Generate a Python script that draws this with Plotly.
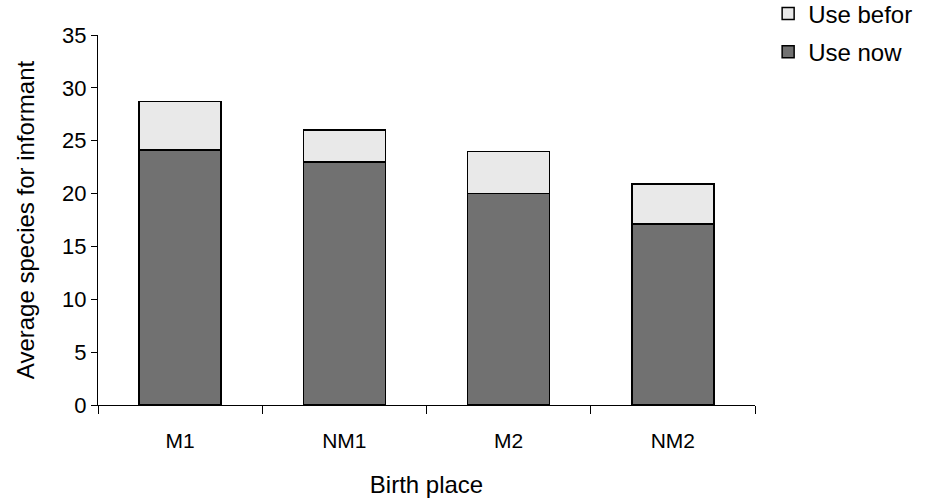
import plotly.graph_objects as go

# Birth place groups and average species counts per informant
places = ["M1", "NM1", "M2", "NM2"]
use_now = [24.1, 23.0, 20.0, 17.1]
use_before = [4.6, 3.0, 4.0, 3.8]

font = "Liberation Sans, Arial, sans-serif"

fig = go.Figure()
fig.add_trace(go.Bar(
    x=places, y=use_now, name="Use now", legendgroup="now", legendrank=2,
    marker=dict(color="#717171", line=dict(color="#000000", width=1.5)),
))
fig.add_trace(go.Bar(
    x=places, y=use_before, name="Use befor", legendgroup="before", legendrank=1,
    marker=dict(color="#e9e9e9", line=dict(color="#000000", width=1.5)),
))

fig.update_layout(
    width=929, height=500,
    barmode="stack", bargap=0.5,
    plot_bgcolor="white", paper_bgcolor="white",
    margin=dict(l=98, r=174, t=35, b=95, autoexpand=False),
    font=dict(family=font, size=22, color="#000000"),
    legend=dict(
        x=1.02, xanchor="left",
        y=1.118, yanchor="top",
        font=dict(size=24), bgcolor="rgba(0,0,0,0)",
        itemwidth=30, tracegroupgap=4,
    ),
    xaxis=dict(
        title=dict(text="Birth place", font=dict(size=24), standoff=24),
        tickfont=dict(size=21),
        showline=True, linecolor="#000000", linewidth=1,
        ticks="outside", tickson="boundaries", ticklen=8, tickcolor="#000000",
        ticklabelstandoff=17,
        showgrid=False,
    ),
    yaxis=dict(
        title=dict(text="Average species for informant", font=dict(size=24), standoff=20),
        tickfont=dict(size=22),
        range=[0, 35], dtick=5,
        showline=True, linecolor="#000000", linewidth=1,
        ticks="outside", ticklen=6, tickcolor="#000000",
        showgrid=False, zeroline=False,
    ),
)

fig.write_html("out.html")
